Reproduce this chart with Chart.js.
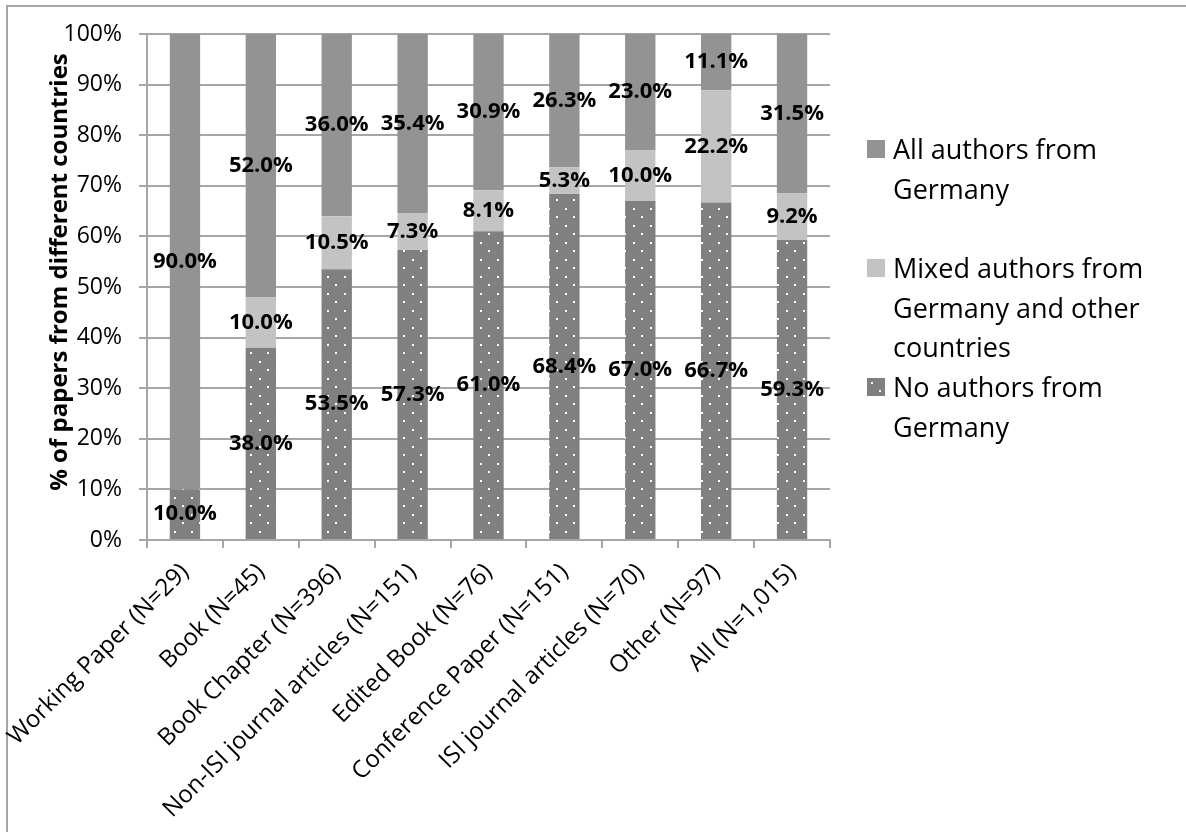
<!DOCTYPE html>
<html>
<head>
<meta charset="utf-8">
<script src="https://cdn.jsdelivr.net/npm/chart.js@4.4.1/dist/chart.umd.min.js"></script>
<style>
  html, body { margin:0; padding:0; background:#fff; overflow:hidden; }
  #wrap { position:relative; width:1186px; height:832px; }
  #frame { position:absolute; left:6px; top:5px; width:1300px; height:1000px; border:2px solid #a6a6a6; box-sizing:border-box; }
  #c { position:absolute; left:0; top:0; }
  #legend { position:absolute; left:867px; top:129px; font-family:"Open Sans", sans-serif; font-size:27px; color:#000; }
  .item { display:flex; align-items:flex-start; height:119px; }
  .item canvas { width:18px; height:18px; margin-top:11px; margin-right:8px; flex:none; }
  .item span { width:285px; line-height:39.7px; }
</style>
</head>
<body>
<div id="wrap">
  <div id="frame"></div>
  <canvas id="c" width="1186" height="832"></canvas>
  <div id="legend"></div>
</div>
<script>
/* ---------- dados ---------- */
const categorias = [
  "Working Paper (N=29)", "Book (N=45)", "Book Chapter (N=396)",
  "Non-ISI journal articles (N=151)", "Edited Book (N=76)", "Conference Paper (N=151)",
  "ISI journal articles (N=70)", "Other (N=97)", "All (N=1,015)"
];
const semAlemanha = [10.0, 38.0, 53.5, 57.3, 61.0, 68.4, 67.0, 66.7, 59.3];
const misto       = [0,    10.0, 10.5, 7.3,  8.1,  5.3,  10.0, 22.2, 9.2];
const soAlemanha  = [90.0, 52.0, 36.0, 35.4, 30.9, 26.3, 23.0, 11.1, 31.5];
const ticksY = [0, 10, 20, 30, 40, 50, 60, 70, 80, 90, 100];

const tituloY = "% of papers from different countries";
const FONTE = '"Open Sans", sans-serif';
const GRADE = "#a6a6a6";

/* ---------- padrão pontilhado ---------- */
const canvas = document.getElementById("c");
const ctx = canvas.getContext("2d");
function pontilhado(){
  const t = document.createElement("canvas");
  t.width = 17; t.height = 17;
  const g = t.getContext("2d");
  g.fillStyle = "#808080"; g.fillRect(0, 0, 17, 17);
  g.fillStyle = "#ffffff";
  g.fillRect(4, 4, 2, 2);
  g.fillRect(12, 12, 2, 2);
  return ctx.createPattern(t, "repeat");
}

/* ---------- plugins ---------- */
// rótulo de cada segmento, no centro da barra
const rotulos = {
  id: "rotulos",
  afterDatasetsDraw(chart){
    const c = chart.ctx;
    c.save();
    c.font = "bold 22px " + FONTE;
    c.fillStyle = "#000";
    c.textAlign = "center";
    c.textBaseline = "middle";
    chart.data.datasets.forEach((ds, i) => {
      chart.getDatasetMeta(i).data.forEach((bar, j) => {
        const v = ds.data[j];
        if(!v) return;
        c.fillText(v.toFixed(1) + "%", bar.x, (bar.y + bar.base) / 2);
      });
    });
    c.restore();
  }
};

// título do eixo y
const tituloEixo = {
  id: "tituloEixo",
  afterDraw(chart){
    const a = chart.chartArea;
    const c = chart.ctx;
    c.save();
    c.translate(a.left - 80, (a.top + a.bottom) / 2 - 15);
    c.rotate(-Math.PI / 2);
    c.font = "bold 24px " + FONTE;
    c.fillStyle = "#000";
    c.textAlign = "center";
    c.textBaseline = "alphabetic";
    c.fillText(tituloY, 0, 0);
    c.restore();
  }
};

/* ---------- gráfico ---------- */
const chart = new Chart(ctx, {
  type: "bar",
  data: {
    labels: categorias,
    datasets: [
      { label: "No authors from Germany", data: semAlemanha, backgroundColor: pontilhado() },
      { label: "Mixed authors from Germany and other countries", data: misto, backgroundColor: "#c3c3c3" },
      { label: "All authors from Germany", data: soAlemanha, backgroundColor: "#939393" }
    ]
  },
  options: {
    responsive: false,
    animation: false,
    layout: { padding: { top: 34, right: 356, left: 0, bottom: 0 } },
    datasets: { bar: { barPercentage: 1, categoryPercentage: 0.4 } },
    plugins: { legend: { display: false }, tooltip: { enabled: false } },
    scales: {
      x: {
        stacked: true,
        grid: { drawOnChartArea: false, drawTicks: true, tickLength: 8, color: GRADE, lineWidth: 2 },
        border: { color: GRADE, width: 2 },
        ticks: {
          autoSkip: false, maxRotation: 45, minRotation: 45, padding: 10,
          color: "#000", font: { family: FONTE, size: 24 }
        },
        afterFit(s){ s.height = 292; s.paddingLeft = 0; s.paddingRight = 0; }
      },
      y: {
        stacked: true,
        min: 0, max: 100,
        afterBuildTicks(s){ s.ticks = ticksY.map(v => ({ value: v })); },
        grid: { color: GRADE, lineWidth: 2, tickLength: 8 },
        border: { color: GRADE, width: 2 },
        ticks: {
          padding: 17, color: "#000", font: { family: FONTE, size: 23 },
          callback: v => v + "%"
        },
        afterFit(s){ s.width = 147; }
      }
    }
  },
  plugins: [rotulos, tituloEixo]
});

/* ---------- legenda ---------- */
const $leg = document.getElementById("legend");
chart.data.datasets.slice().reverse().forEach(ds => {
  const item = document.createElement("div");
  item.className = "item";
  const m = document.createElement("canvas");
  m.width = 18; m.height = 18;
  const mc = m.getContext("2d");
  mc.fillStyle = ds.backgroundColor;
  mc.fillRect(0, 0, 18, 18);
  const txt = document.createElement("span");
  txt.textContent = ds.label;
  item.appendChild(m);
  item.appendChild(txt);
  $leg.appendChild(item);
});
</script>
</body>
</html>
